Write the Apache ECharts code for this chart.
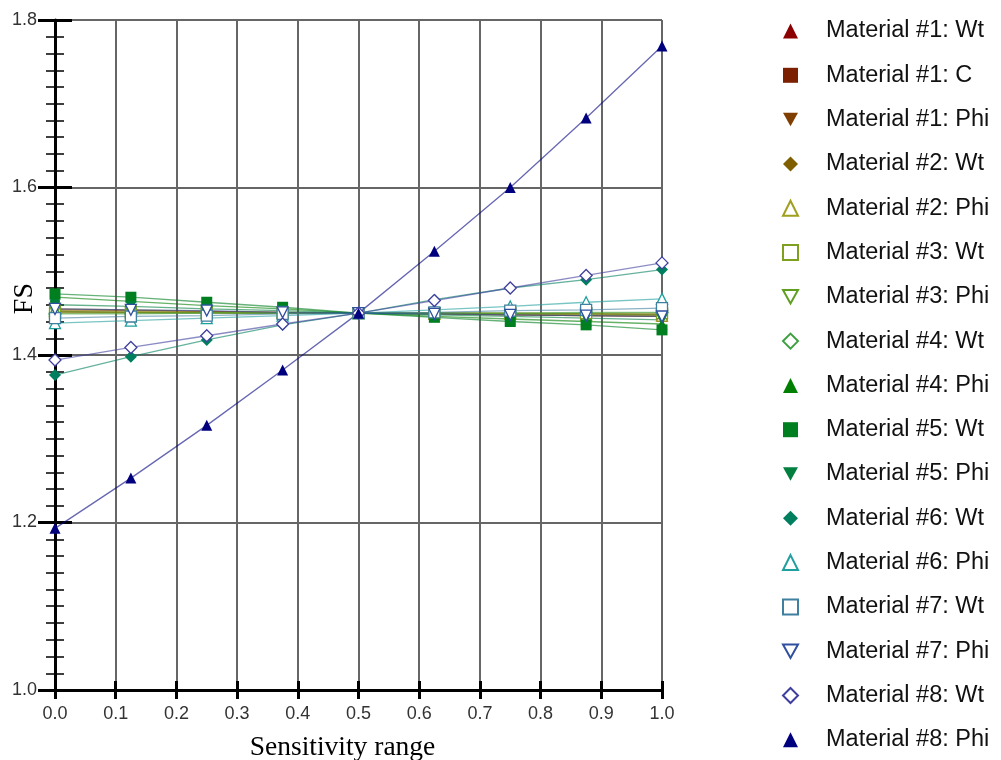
<!DOCTYPE html>
<html><head><meta charset="utf-8">
<script src="https://cdn.jsdelivr.net/npm/echarts@6/dist/echarts.min.js"></script>
<style>html,body{margin:0;padding:0;background:#fff}#c{width:1001px;height:760px}</style>
</head><body><div id="c"></div>
<script>
const xValues = [0, 0.125, 0.25, 0.375, 0.5, 0.625, 0.75, 0.875, 1.0];
const xTicks = ['0.0','0.1','0.2','0.3','0.4','0.5','0.6','0.7','0.8','0.9','1.0'];
const yTicks = ['1.0','1.2','1.4','1.6','1.8'];
const seriesNames = ['Material #1: Wt','Material #1: C','Material #1: Phi','Material #2: Wt','Material #2: Phi','Material #3: Wt','Material #3: Phi','Material #4: Wt','Material #4: Phi','Material #5: Wt','Material #5: Phi','Material #6: Wt','Material #6: Phi','Material #7: Wt','Material #7: Phi','Material #8: Wt','Material #8: Phi'];
const m1Wt  = [1.452,1.451,1.451,1.450,1.450,1.450,1.449,1.449,1.448];
const m1C   = [1.454,1.453,1.452,1.451,1.450,1.449,1.448,1.447,1.446];
const m1Phi = [1.455,1.454,1.452,1.451,1.450,1.449,1.448,1.447,1.446];
const m2Wt  = [1.451,1.451,1.450,1.450,1.450,1.450,1.450,1.449,1.449];
const m2Phi = [1.453,1.452,1.451,1.451,1.450,1.449,1.449,1.448,1.447];
const m3Wt  = [1.450,1.450,1.450,1.450,1.450,1.450,1.450,1.450,1.450];
const m3Phi = [1.452,1.451,1.451,1.450,1.450,1.450,1.449,1.449,1.448];
const m4Wt  = [1.449,1.449,1.450,1.450,1.450,1.450,1.450,1.451,1.451];
const m4Phi = [1.469,1.464,1.459,1.455,1.450,1.446,1.443,1.440,1.437];
const m5Wt  = [1.473,1.469,1.463,1.457,1.450,1.445,1.440,1.436,1.430];
const m5Phi = [1.460,1.458,1.455,1.453,1.450,1.448,1.446,1.444,1.442];
const m6Wt  = [1.376,1.398,1.418,1.436,1.450,1.466,1.480,1.490,1.502];
const m6Phi = [1.438,1.441,1.444,1.447,1.450,1.454,1.458,1.463,1.467];
const m7Wt  = [1.444,1.446,1.447,1.449,1.450,1.451,1.453,1.454,1.456];
const m7Phi = [1.455,1.454,1.453,1.451,1.450,1.449,1.448,1.447,1.446];
const m8Wt  = [1.394,1.409,1.423,1.437,1.450,1.465,1.480,1.495,1.510];
const m8Phi = [1.193,1.253,1.316,1.382,1.450,1.524,1.600,1.683,1.769];
const seriesValues = [m1Wt,m1C,m1Phi,m2Wt,m2Phi,m3Wt,m3Phi,m4Wt,m4Phi,m5Wt,m5Phi,m6Wt,m6Phi,m7Wt,m7Phi,m8Wt,m8Phi];

const DOWN = 'path://M0,0L10,0L5,9Z';
const styles = [
  ['triangle','#8B0000',true],
  ['rect','#7B2000',true],
  [DOWN,'#7F3F00',true],
  ['diamond','#7F5F00',true],
  ['triangle','#9F9F20',false],
  ['rect','#7F9F20',false],
  [DOWN,'#5F9F20',false],
  ['diamond','#3F9F3F',false],
  ['triangle','#007F00',true],
  ['rect','#007F20',true],
  [DOWN,'#007F3F',true],
  ['diamond','#007F5F',true],
  ['triangle','#209F9F',false],
  ['rect','#3F7F9F',false],
  [DOWN,'#2F4F9F',false],
  ['diamond','#3F3F9F',false],
  ['triangle','#00007F',true]
];

const series = seriesNames.map((name,i)=>{
  const [sym,col,filled] = styles[i];
  return {
    name, type:'line', xAxisIndex:0, yAxisIndex:0,
    data: xValues.map((x,j)=>[x, seriesValues[i][j]]),
    symbol: sym, symbolSize: sym==='diamond'?12:11, showAllSymbol:true,
    lineStyle:{color:col, width:1.3, opacity:0.6},
    itemStyle: filled ? {color:col, borderColor:col, borderWidth:0} : {color:'#fff', borderColor:col, borderWidth:1.3},
    emphasis:{disabled:true}, animation:false
  };
});

const tickFont = {fontFamily:'Liberation Sans, Arial', fontSize:18, color:'#333'};
const chart = echarts.init(document.getElementById('c'), null, {renderer:'canvas'});
chart.setOption({
  animation:false,
  backgroundColor:'#fff',
  grid:{left:55, right:339, top:20, bottom:70, containLabel:false, outerBoundsMode:'none'},
  legend:{
    orient:'vertical', left:777, top:14, height:750, itemWidth:15, itemHeight:15, itemGap:20.3,
    data: seriesNames.map((n,i)=>({name:n, icon: styles[i][0]})),
    textStyle:{fontFamily:'Liberation Sans, Arial', fontSize:23.5, lineHeight:24, color:'#111', padding:[0,0,0,23]},
    selectedMode:false
  },
  xAxis:[{
    type:'value', min:0, max:1, interval:0.1, position:'bottom',
    name:'Sensitivity range', nameLocation:'middle', nameGap:44,
    nameTextStyle:{fontFamily:'Liberation Serif, Times New Roman', fontSize:27.5, color:'#000', padding:[0,32,0,0]},
    axisLine:{show:true, onZero:false, lineStyle:{color:'#000', width:3}},
    axisTick:{show:true, inside:false, length:9, lineStyle:{color:'#000', width:3}},
    axisLabel:Object.assign({margin:15, formatter:(v)=>xTicks[Math.round(v*10)]}, tickFont),
    splitLine:{show:true, lineStyle:{color:'#666', width:2}}
  },{
    type:'value', min:0, max:1, interval:0.1, position:'bottom',
    axisLine:{show:false}, axisLabel:{show:false}, splitLine:{show:false},
    axisTick:{show:true, inside:true, length:9, lineStyle:{color:'#000', width:3}}
  }],
  yAxis:[{
    type:'value', min:1.0, max:1.8, interval:0.2, position:'left',
    axisLine:{show:true, onZero:false, lineStyle:{color:'#000', width:3}},
    axisTick:{show:true, inside:false, length:17, lineStyle:{color:'#000', width:3}},
    minorTick:{show:true, splitNumber:10, length:9, lineStyle:{color:'#000', width:1.5}},
    axisLabel:Object.assign({margin:18, formatter:(v)=>yTicks[Math.round((v-1)*5)]}, tickFont),
    splitLine:{show:true, lineStyle:{color:'#666', width:2}}
  },{
    type:'value', min:1.0, max:1.8, interval:0.2, position:'left',
    axisLine:{show:false}, axisLabel:{show:false}, splitLine:{show:false},
    axisTick:{show:true, inside:true, length:17, lineStyle:{color:'#000', width:3}},
    minorTick:{show:true, splitNumber:10, length:9, lineStyle:{color:'#000', width:1.5}}
  }],
  graphic:[{
    type:'text', left:11, top:283, rotation:Math.PI/2,
    style:{text:'FS', font:'28px "Liberation Serif", "Times New Roman", serif', fill:'#000'}
  }],
  series
});
</script></body></html>
